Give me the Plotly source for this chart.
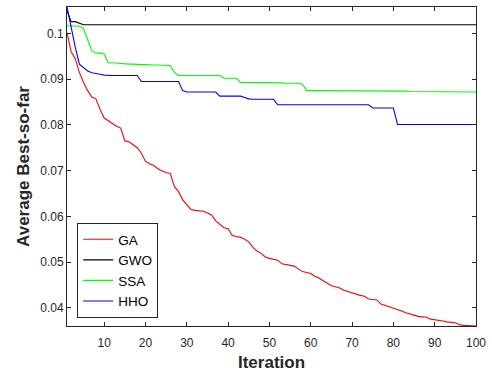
import plotly.graph_objects as go

iterations = list(range(1, 101))

ga = [
    0.1002, 0.0960, 0.0945, 0.0915, 0.0893, 0.0875, 0.0861, 0.0857, 0.0834, 0.0815,
    0.0809, 0.0802, 0.0797, 0.0793, 0.0765, 0.0763, 0.0757, 0.0750, 0.0738, 0.0720,
    0.0715, 0.0711, 0.0704, 0.0699, 0.0696, 0.0694, 0.0665, 0.0654, 0.0636, 0.0625,
    0.0615, 0.0613, 0.0612, 0.0611, 0.0607, 0.0603, 0.0590, 0.0582, 0.0575, 0.0573,
    0.0558, 0.0556, 0.0554, 0.0550, 0.0544, 0.0532, 0.0524, 0.0519, 0.0511, 0.0508,
    0.0506, 0.0504, 0.0496, 0.0494, 0.0492, 0.0491, 0.0485, 0.0479, 0.0477, 0.0475,
    0.0469, 0.0465, 0.0459, 0.0454, 0.0448, 0.0446, 0.0443, 0.0438, 0.0435, 0.0433,
    0.0430, 0.0427, 0.0425, 0.0419, 0.0418, 0.0417, 0.0408, 0.0405, 0.0402, 0.0400,
    0.0397, 0.0393, 0.0389, 0.0386, 0.0383, 0.0381, 0.0380, 0.0379, 0.0375, 0.0374,
    0.0373, 0.0371, 0.0369, 0.0368, 0.0367, 0.0363, 0.0361, 0.0361, 0.0360, 0.0360,
]

gwo = [
    0.1050, 0.1026, 0.1026, 0.1023, 0.1019, 0.1019, 0.1019, 0.1019, 0.1019, 0.1019,
    0.1019, 0.1019, 0.1019, 0.1019, 0.1019, 0.1019, 0.1019, 0.1019, 0.1019, 0.1019,
    0.1019, 0.1019, 0.1019, 0.1019, 0.1019, 0.1019, 0.1019, 0.1019, 0.1019, 0.1019,
    0.1019, 0.1019, 0.1019, 0.1019, 0.1019, 0.1019, 0.1019, 0.1019, 0.1019, 0.1019,
    0.1019, 0.1019, 0.1019, 0.1019, 0.1019, 0.1019, 0.1019, 0.1019, 0.1019, 0.1019,
    0.1019, 0.1019, 0.1019, 0.1019, 0.1019, 0.1019, 0.1019, 0.1019, 0.1019, 0.1019,
    0.1019, 0.1019, 0.1019, 0.1019, 0.1019, 0.1019, 0.1019, 0.1019, 0.1019, 0.1019,
    0.1019, 0.1019, 0.1019, 0.1019, 0.1019, 0.1019, 0.1019, 0.1019, 0.1019, 0.1019,
    0.1019, 0.1019, 0.1019, 0.1019, 0.1019, 0.1019, 0.1019, 0.1019, 0.1019, 0.1019,
    0.1019, 0.1019, 0.1019, 0.1019, 0.1019, 0.1019, 0.1019, 0.1019, 0.1019, 0.1019,
]

ssa = [
    0.1017, 0.1017, 0.1017, 0.1016, 0.1011, 0.0985, 0.0962, 0.0957, 0.0957, 0.0955,
    0.0936, 0.0936, 0.0935, 0.0935, 0.0934, 0.0933, 0.0933, 0.0932, 0.0932, 0.0932,
    0.0931, 0.0931, 0.0931, 0.0931, 0.0931, 0.0930, 0.0915, 0.0908, 0.0908, 0.0908,
    0.0908, 0.0908, 0.0908, 0.0908, 0.0908, 0.0908, 0.0908, 0.0908, 0.0902, 0.0902,
    0.0902, 0.0902, 0.0893, 0.0893, 0.0893, 0.0893, 0.0893, 0.0893, 0.0892, 0.0892,
    0.0892, 0.0892, 0.0892, 0.0891, 0.0891, 0.0891, 0.0891, 0.0889, 0.0875, 0.0875,
    0.0875, 0.0875, 0.0875, 0.0875, 0.0875, 0.0875, 0.0875, 0.0875, 0.0875, 0.0875,
    0.0874, 0.0874, 0.0874, 0.0874, 0.0874, 0.0874, 0.0874, 0.0874, 0.0874, 0.0874,
    0.0874, 0.0874, 0.0874, 0.0873, 0.0873, 0.0873, 0.0873, 0.0873, 0.0873, 0.0873,
    0.0873, 0.0872, 0.0872, 0.0872, 0.0872, 0.0872, 0.0872, 0.0872, 0.0872, 0.0872,
]

hho = [
    0.1058, 0.1010, 0.0970, 0.0933, 0.0925, 0.0918, 0.0914, 0.0913, 0.0911, 0.0909,
    0.0908, 0.0908, 0.0908, 0.0908, 0.0908, 0.0908, 0.0908, 0.0908, 0.0895, 0.0895,
    0.0895, 0.0895, 0.0895, 0.0895, 0.0895, 0.0895, 0.0895, 0.0895, 0.0875, 0.0872,
    0.0872, 0.0872, 0.0872, 0.0872, 0.0872, 0.0872, 0.0872, 0.0863, 0.0863, 0.0863,
    0.0863, 0.0863, 0.0863, 0.0860, 0.0857, 0.0856, 0.0856, 0.0856, 0.0856, 0.0856,
    0.0856, 0.0844, 0.0844, 0.0844, 0.0844, 0.0844, 0.0844, 0.0844, 0.0844, 0.0844,
    0.0844, 0.0844, 0.0844, 0.0844, 0.0844, 0.0844, 0.0844, 0.0844, 0.0844, 0.0844,
    0.0844, 0.0844, 0.0844, 0.0844, 0.0837, 0.0837, 0.0837, 0.0837, 0.0837, 0.0837,
    0.0801, 0.0801, 0.0801, 0.0801, 0.0801, 0.0801, 0.0801, 0.0801, 0.0801, 0.0801,
    0.0801, 0.0801, 0.0801, 0.0801, 0.0801, 0.0801, 0.0801, 0.0801, 0.0801, 0.0801,
]

series_names = ["GA", "GWO", "SSA", "HHO"]
series_values = [ga, gwo, ssa, hho]
series_colors = ["#ff0000", "#000000", "#00ff00", "#0000ff"]

x_tick_vals = [10, 20, 30, 40, 50, 60, 70, 80, 90, 100]
y_tick_vals = [0.04, 0.05, 0.06, 0.07, 0.08, 0.09, 0.1]
y_tick_text = ["0.04", "0.05", "0.06", "0.07", "0.08", "0.09", "0.1"]

FONT = "Liberation Sans, Arial, Helvetica, sans-serif"
AXIS_COLOR = "#262626"

fig = go.Figure()
for name, vals, col in zip(series_names, series_values, series_colors):
    fig.add_trace(go.Scatter(
        x=iterations, y=vals, mode="lines", name=name,
        line=dict(color=col, width=1.1),
    ))

axis_common = dict(
    showline=True, linecolor=AXIS_COLOR, linewidth=1, mirror="ticks",
    ticks="inside", ticklen=4, tickcolor=AXIS_COLOR, tickwidth=1,
    showgrid=False, zeroline=False,
    tickfont=dict(family=FONT, size=12, color=AXIS_COLOR),
)

fig.update_layout(
    width=492, height=374,
    margin=dict(l=67, r=15, t=6, b=47),
    paper_bgcolor="white", plot_bgcolor="white",
    font=dict(family=FONT, color=AXIS_COLOR),
    xaxis=dict(
        range=[1, 100], tickvals=x_tick_vals, ticklabelstandoff=6,
        title=dict(text="<b>Iteration</b>", font=dict(family=FONT, size=17, color=AXIS_COLOR), standoff=6),
        **axis_common,
    ),
    yaxis=dict(
        range=[0.0360, 0.1058], tickvals=y_tick_vals, ticktext=y_tick_text,
        title=dict(text="<b>Average Best-so-far</b>", font=dict(family=FONT, size=17, color=AXIS_COLOR), standoff=6),
        **axis_common,
    ),
    legend=dict(
        x=0.025, y=0.025, xanchor="left", yanchor="bottom",
        bgcolor="white", bordercolor=AXIS_COLOR, borderwidth=1,
        font=dict(family=FONT, size=13.5, color="#000000"),
        tracegroupgap=0, itemwidth=30,
    ),
    showlegend=True,
)

fig.write_html("out.html")
